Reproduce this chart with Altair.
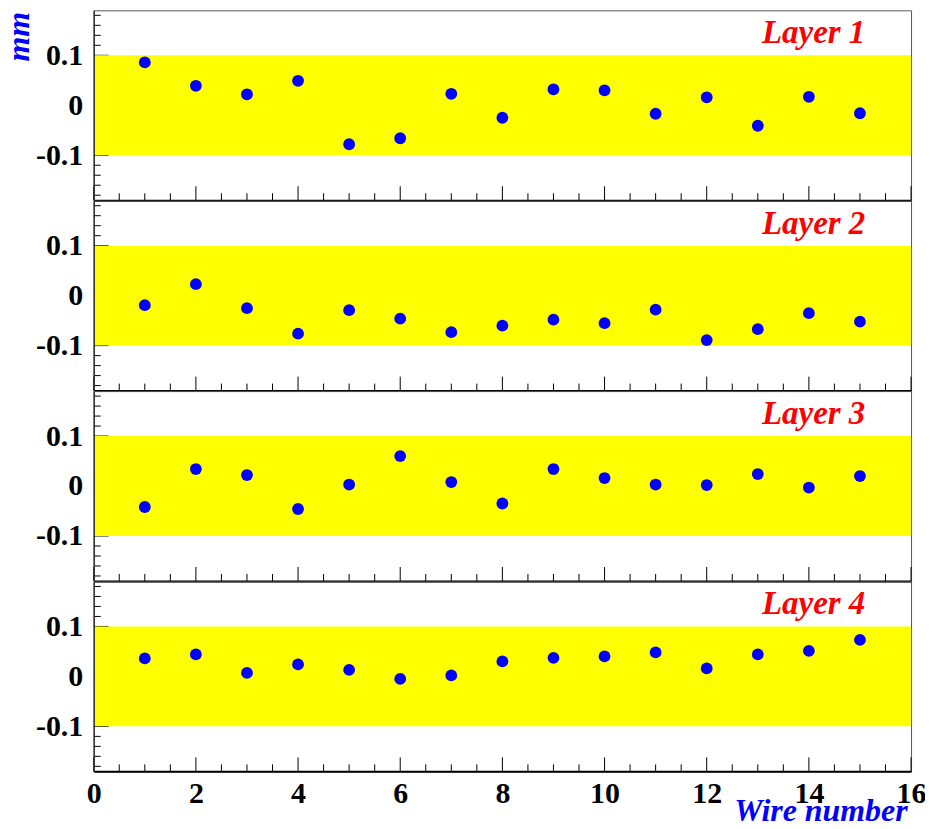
import altair as alt
import pandas as pd

wires = list(range(1, 16))
layer1 = [0.086, 0.039, 0.022, 0.049, -0.078, -0.066, 0.023, -0.025, 0.032, 0.030, -0.017, 0.016, -0.041, 0.017, -0.016]
layer2 = [-0.019, 0.023, -0.025, -0.076, -0.029, -0.046, -0.073, -0.060, -0.048, -0.055, -0.028, -0.089, -0.067, -0.035, -0.052]
layer3 = [-0.042, 0.034, 0.022, -0.046, 0.003, 0.060, 0.008, -0.035, 0.034, 0.016, 0.003, 0.002, 0.024, -0.003, 0.020]
layer4 = [0.036, 0.044, 0.007, 0.024, 0.013, -0.005, 0.002, 0.030, 0.037, 0.040, 0.048, 0.016, 0.044, 0.051, 0.073]
layer_names = ["Layer 1", "Layer 2", "Layer 3", "Layer 4"]

x_domain = [0, 16]
y_domain = [-0.19, 0.19]
band = [-0.1, 0.1]
x_major = [0, 2, 4, 6, 8, 10, 12, 14, 16]
x_minor = [0.5, 1, 1.5, 2.5, 3, 3.5, 4.5, 5, 5.5, 6.5, 7, 7.5, 8.5, 9, 9.5,
           10.5, 11, 11.5, 12.5, 13, 13.5, 14.5, 15, 15.5]
y_major = [-0.1, 0, 0.1]
y_minor = [-0.18, -0.16, -0.14, -0.12, 0.12, 0.14, 0.16, 0.18]

FONT = "Liberation Serif"
W, H = 820, 190.5

xscale = alt.Scale(domain=x_domain, nice=False, zero=False)
yscale = alt.Scale(domain=y_domain, nice=False, zero=False)


def panel(idx, vals, last):
    pts = pd.DataFrame({"wire": wires, "offset": vals})
    band_df = pd.DataFrame({"x0": [x_domain[0]], "x1": [x_domain[1]], "y0": [band[0]], "y1": [band[1]]})
    xmaj = pd.DataFrame({"t": x_major})
    xmin = pd.DataFrame({"t": x_minor})
    ymaj = pd.DataFrame({"t": y_major})
    ymin = pd.DataFrame({"t": y_minor})
    lab = pd.DataFrame({"name": [layer_names[idx]]})

    x_axis = alt.Axis(
        values=x_major, labels=last, ticks=False, tickSize=0, grid=False,
        domain=True, domainColor="#000000", domainWidth=2, zindex=1,
        labelFont=FONT, labelFontWeight="bold", labelFontSize=30, labelColor="#000000",
        labelPadding=7, labelFlush=False,
        title="Wire number" if last else "",
        titleFont=FONT, titleFontStyle="italic", titleFontWeight="bold", titleFontSize=32,
        titleColor="#0000ff", titleX=816, titleY=49, titleAlign="right",
        titleBaseline="alphabetic", titleAnchor="end",
    )
    y_axis = alt.Axis(
        values=y_major, labelExpr="toString(datum.value)", ticks=False, tickSize=0,
        grid=False, domain=True, domainColor="#333333", domainWidth=1.5, zindex=1,
        labelFont=FONT, labelFontWeight="bold", labelFontSize=30, labelColor="#000000",
        labelPadding=11, labelFlush=False,
        title="mm" if idx == 0 else "",
        titleFont=FONT, titleFontStyle="italic", titleFontWeight="bold", titleFontSize=32,
        titleColor="#0000ff", titleX=-65, titleY=1, titleAngle=270, titleAlign="right",
        titleBaseline="alphabetic",
    )

    def X(f):
        return alt.X(f, scale=xscale, axis=x_axis)

    def Y(f):
        return alt.Y(f, scale=yscale, axis=y_axis)

    ymaj_t = alt.Chart(ymaj).mark_rule(color="#000000", strokeWidth=1).encode(
        y=Y("t:Q"), x=alt.value(0), x2=alt.value(15))
    ymin_t = alt.Chart(ymin).mark_rule(color="#000000", strokeWidth=1).encode(
        y=Y("t:Q"), x=alt.value(0), x2=alt.value(7))
    xmaj_t = alt.Chart(xmaj).mark_rule(color="#000000", strokeWidth=1).encode(
        x=X("t:Q"), y=alt.value(H), y2=alt.value(H - 14))
    xmin_t = alt.Chart(xmin).mark_rule(color="#000000", strokeWidth=1).encode(
        x=X("t:Q"), y=alt.value(H), y2=alt.value(H - 7))
    rect = alt.Chart(band_df).mark_rect(color="#ffff00").encode(
        x=X("x0:Q"), x2="x1:Q", y=Y("y0:Q"), y2="y1:Q")
    points = alt.Chart(pts).mark_circle(color="#0000ff", opacity=1, size=140).encode(
        x=X("wire:Q"), y=Y("offset:Q"))
    text = alt.Chart(lab).mark_text(
        font=FONT, fontStyle="italic", fontWeight="bold", fontSize=33,
        color="#ff0000", align="right", baseline="alphabetic").encode(
        text="name:N", x=alt.value(774), y=alt.value(33))

    return alt.layer(ymaj_t, ymin_t, xmaj_t, xmin_t, rect, points, text).properties(width=W, height=H)


chart = alt.vconcat(
    panel(0, layer1, False),
    panel(1, layer2, False),
    panel(2, layer3, False),
    panel(3, layer4, True),
    spacing=0,
    bounds="flush",
).properties(
    padding={"left": -6, "top": 0, "right": -2, "bottom": 0},
    background="#ffffff",
).configure_view(stroke="#555555", strokeWidth=1).configure_concat(spacing=0)

chart.save("out.html", embed_options={"renderer": "svg", "actions": False})
